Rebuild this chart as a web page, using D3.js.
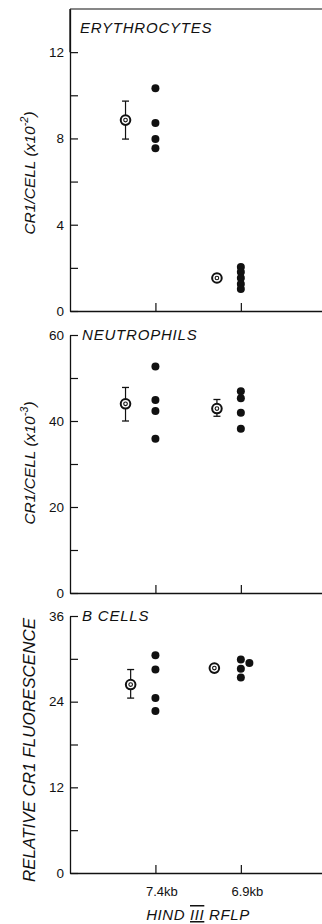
<!DOCTYPE html>
<html>
  <head>
    <meta charset="utf-8">
    <title>CR1 by HindIII RFLP</title>
    <script src="https://cdn.jsdelivr.net/npm/d3@7"></script>
    <style>
      body { margin: 0; background: #fff; }
      text { font-family: "Liberation Sans", Arial, sans-serif; fill: #111; }
    </style>
  </head>
  <body>
    <script>
      // categories on the x axis (two RFLP alleles)
      var categories = ["7.4kb", "6.9kb"];
      var catPos = [1, 2];

      // erythrocytes, CR1/cell (x10^-2)
      var eryMeanPos = [0.65, 1.72];
      var eryMean = [8.85, 1.53];
      var eryLow = [7.97, 1.38];
      var eryHigh = [9.73, 1.70];
      var eryDots74 = [10.33, 8.71, 7.97, 7.55];
      var eryDots69 = [2.04, 1.81, 1.53, 1.25, 1.02];
      var eryDots69Pos = [2, 2, 2, 2, 2];

      // neutrophils, CR1/cell (x10^-3)
      var neuMeanPos = [0.65, 1.72];
      var neuMean = [44.0, 42.9];
      var neuLow = [40.0, 41.1];
      var neuHigh = [47.8, 45.0];
      var neuDots74 = [52.7, 44.9, 42.3, 35.9];
      var neuDots69 = [46.9, 45.3, 41.9, 38.2];
      var neuDots69Pos = [2, 2, 2, 2];

      // B cells, relative CR1 fluorescence
      var bMeanPos = [0.71, 1.69];
      var bMean = [26.4, 28.7];
      var bLow = [24.5, 28.2];
      var bHigh = [28.5, 29.2];
      var bDots74 = [30.5, 28.5, 24.5, 22.7];
      var bDots69 = [29.9, 28.6, 27.4, 29.4];
      var bDots69Pos = [2, 2, 2, 2.1];

      var w = 322, h = 924;
      var svg = d3.select("body").append("svg")
        .attr("width", w).attr("height", h);

      var x = d3.scaleLinear().domain([0, 2.95]).range([70, 322]);

      function panel(opt) {
        var y = d3.scaleLinear().domain([0, opt.max]).range([opt.bottom, opt.top]);
        var g = svg.append("g");

        // y axis, ticks pointing inward
        g.append("g")
          .attr("transform", "translate(70,0)")
          .call(d3.axisLeft(y)
            .tickValues(d3.range(0, opt.axisMax + 0.001, opt.minor))
            .tickSizeInner(-8).tickSizeOuter(0).tickPadding(6)
            .tickFormat(function(d) { return d % opt.major === 0 ? d : ""; }))
          .call(function(a) {
            a.select(".domain").attr("stroke", "#111").attr("stroke-width", 1.3);
            a.selectAll(".tick line").attr("stroke", "#111").attr("stroke-width", 1.2);
            a.selectAll("text").attr("font-size", 13.5).attr("fill", "#111");
          });
        if (opt.max > opt.axisMax) {
          g.append("line")
            .attr("x1", 70).attr("x2", 70)
            .attr("y1", y(opt.axisMax)).attr("y2", y(opt.max))
            .attr("stroke", "#111").attr("stroke-width", 1.3);
          g.append("line")
            .attr("x1", 70).attr("x2", w)
            .attr("y1", y(opt.max)).attr("y2", y(opt.max))
            .attr("stroke", "#111").attr("stroke-width", 1.2);
        }

        // x axis, ticks pointing up
        g.append("g")
          .attr("transform", "translate(0," + opt.bottom + ")")
          .call(d3.axisBottom(x).tickValues(catPos)
            .tickSizeInner(-8).tickSizeOuter(0).tickPadding(14)
            .tickFormat(function(d, i) { return opt.labels ? categories[i] : ""; }))
          .call(function(a) {
            a.select(".domain").attr("stroke", "#111").attr("stroke-width", 1.3);
            a.selectAll(".tick line").attr("stroke", "#111").attr("stroke-width", 1.2);
            a.selectAll("text").attr("font-size", 13).attr("fill", "#111").attr("dx", 6);
          });

        // title
        g.append("text")
          .attr("x", opt.titleX).attr("y", opt.titleY)
          .attr("font-size", 15).attr("font-style", "italic")
          .attr("letter-spacing", 0.8)
          .text(opt.title);

        // y label
        var lab = g.append("text")
          .attr("transform", "translate(" + 35 + "," + opt.labelY + ") rotate(-90)")
          .attr("text-anchor", "middle")
          .attr("font-size", opt.labelSize).attr("font-style", "italic");
        lab.text(opt.ylabel);
        if (opt.exp) {
          lab.append("tspan").attr("dy", -7).attr("font-size", 11).text(opt.exp);
          lab.append("tspan").attr("dy", 7).text(")");
        }

        // error bars
        var caps = 3.5;
        opt.meanPos.forEach(function(p, i) {
          var cx = x(p);
          g.append("line").attr("x1", cx).attr("x2", cx)
            .attr("y1", y(opt.low[i])).attr("y2", y(opt.high[i]))
            .attr("stroke", "#111").attr("stroke-width", 1.2);
          [opt.low[i], opt.high[i]].forEach(function(v) {
            g.append("line").attr("x1", cx - caps).attr("x2", cx + caps)
              .attr("y1", y(v)).attr("y2", y(v))
              .attr("stroke", "#111").attr("stroke-width", 1.3);
          });
        });

        // mean markers (ring with inner ring)
        g.selectAll(".mean").data(opt.mean).enter().append("circle")
          .attr("cx", function(d, i) { return x(opt.meanPos[i]); })
          .attr("cy", function(d) { return y(d); })
          .attr("r", 4.8).attr("fill", "#fff")
          .attr("stroke", "#111").attr("stroke-width", 2);
        g.selectAll(".meanin").data(opt.mean).enter().append("circle")
          .attr("cx", function(d, i) { return x(opt.meanPos[i]); })
          .attr("cy", function(d) { return y(d); })
          .attr("r", 1.8).attr("fill", "#fff")
          .attr("stroke", "#111").attr("stroke-width", 1.1);

        // individual points
        g.selectAll(".d74").data(opt.dots74).enter().append("circle")
          .attr("cx", x(catPos[0]))
          .attr("cy", function(d) { return y(d); })
          .attr("r", 4).attr("fill", "#111");
        g.selectAll(".d69").data(opt.dots69).enter().append("circle")
          .attr("cx", function(d, i) { return x(opt.dots69Pos[i]); })
          .attr("cy", function(d) { return y(d); })
          .attr("r", 4).attr("fill", "#111");
      }

      panel({
        top: 9, bottom: 311, max: 14, axisMax: 12, minor: 2, major: 4,
        title: "ERYTHROCYTES", titleX: 80, titleY: 33,
        ylabel: "CR1/CELL (x10", exp: "-2", labelY: 173, labelSize: 15.5,
        meanPos: eryMeanPos, mean: eryMean, low: eryLow, high: eryHigh,
        dots74: eryDots74, dots69: eryDots69, dots69Pos: eryDots69Pos, labels: false
      });
      panel({
        top: 335, bottom: 593, max: 60, axisMax: 60, minor: 10, major: 20,
        title: "NEUTROPHILS", titleX: 82, titleY: 340,
        ylabel: "CR1/CELL (x10", exp: "-3", labelY: 463, labelSize: 15.5,
        meanPos: neuMeanPos, mean: neuMean, low: neuLow, high: neuHigh,
        dots74: neuDots74, dots69: neuDots69, dots69Pos: neuDots69Pos, labels: false
      });
      panel({
        top: 616, bottom: 873, max: 36, axisMax: 36, minor: 6, major: 12,
        title: "B CELLS", titleX: 82, titleY: 621,
        ylabel: "RELATIVE CR1 FLUORESCENCE", exp: null, labelY: 750, labelSize: 17,
        meanPos: bMeanPos, mean: bMean, low: bLow, high: bHigh,
        dots74: bDots74, dots69: bDots69, dots69Pos: bDots69Pos, labels: true
      });

      // x axis title
      var xt = svg.append("text")
        .attr("x", 198).attr("y", 920)
        .attr("text-anchor", "middle")
        .attr("font-size", 15).attr("font-style", "italic")
        .attr("letter-spacing", 0.6);
      xt.append("tspan").text("HIND ");
      xt.append("tspan").attr("text-decoration", "underline overline").text("III");
      xt.append("tspan").text(" RFLP");
    </script>
  </body>
</html>
